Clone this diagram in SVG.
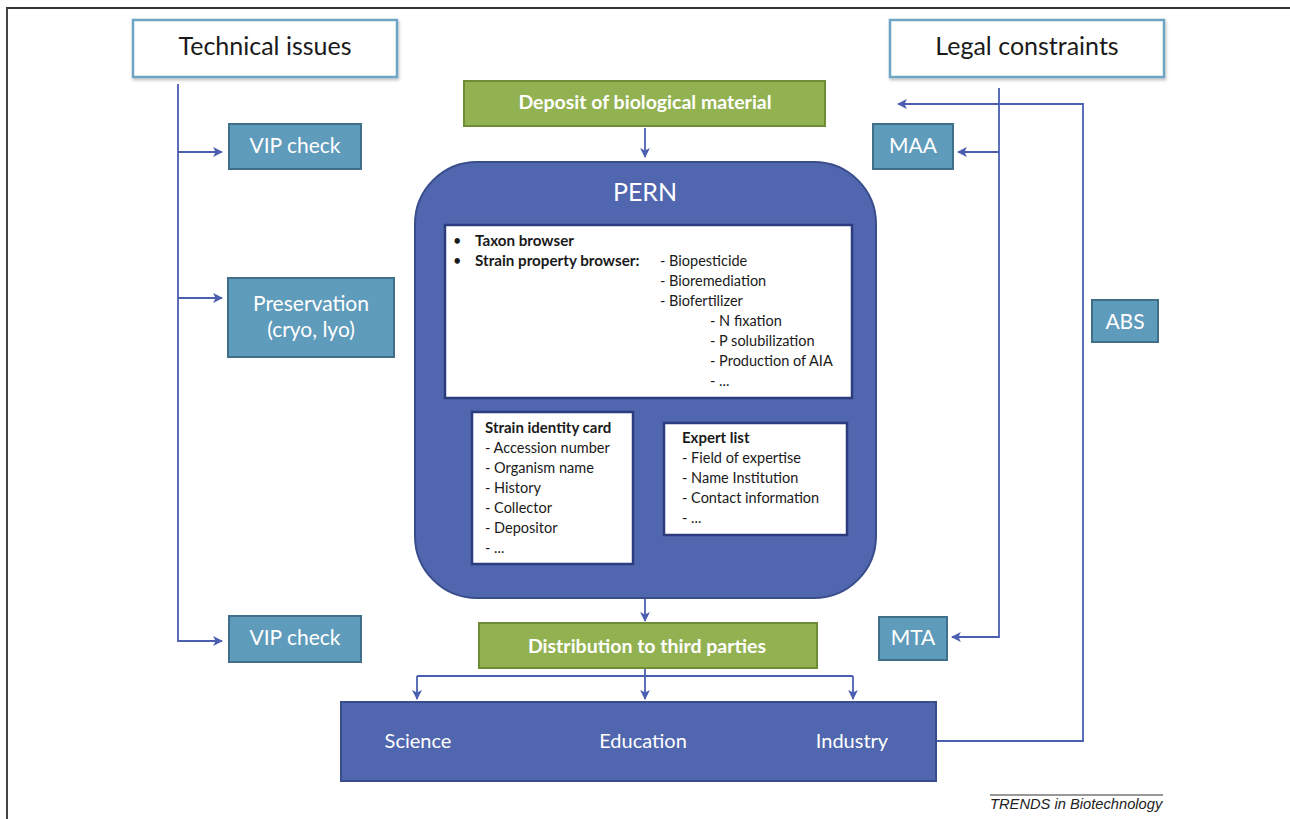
<svg xmlns="http://www.w3.org/2000/svg" width="1290" height="819" viewBox="0 0 1290 819">
<defs>
<style>
.t{font-family:Lato,"Liberation Sans",sans-serif}
.hdr{fill:#ffffff;stroke:#6ea5c5;stroke-width:2.5}
.teal{fill:#5f9bbb;stroke:#3f6f89;stroke-width:2}
.green{fill:#92b151;stroke:#6f8c37;stroke-width:2}
.blue{fill:#5066ae;stroke:#394c8c;stroke-width:2}
.wbox{fill:#ffffff;stroke:#2c3c7e;stroke-width:2.5}
.wt{fill:#ffffff}
.kt{fill:#1a1a1a}
.con{fill:none;stroke:#4a5fb0;stroke-width:1.8}
</style>
<marker id="ah" viewBox="0 0 10 10" refX="9" refY="5" markerWidth="5.5" markerHeight="5.5" orient="auto" markerUnits="strokeWidth">
<path d="M0,0 L10,5 L0,10 L2.5,5 z" fill="#4a5fb0"/>
</marker>
<filter id="sh" x="-10%" y="-10%" width="120%" height="130%">
<feDropShadow dx="1" dy="2" stdDeviation="1.5" flood-color="#000" flood-opacity="0.25"/>
</filter>
</defs>
<rect x="0" y="0" width="1290" height="819" fill="#ffffff"/>
<g id="frame">
<line x1="6" y1="8" x2="1290" y2="8" stroke="#333" stroke-width="2"/>
<line x1="7" y1="8" x2="7" y2="819" stroke="#444" stroke-width="2"/>
</g>
<g id="connectors">
<path class="con" d="M178 84 V641 H222" marker-end="url(#ah)"/>
<path class="con" d="M178 152 H222" marker-end="url(#ah)"/>
<path class="con" d="M178 298 H222" marker-end="url(#ah)"/>
<path class="con" d="M999 88 V637 H952" marker-end="url(#ah)"/>
<path class="con" d="M999 152 H958" marker-end="url(#ah)"/>
<path class="con" d="M937 741 H1083 V104 H898" marker-end="url(#ah)"/>
<path class="con" d="M645 128 V157" marker-end="url(#ah)"/>
<path class="con" d="M645 598 V621" marker-end="url(#ah)"/>
<path class="con" d="M645 668 V699" marker-end="url(#ah)"/>
<path class="con" d="M417 676 H853"/>
<path class="con" d="M417 676 V699" marker-end="url(#ah)"/>
<path class="con" d="M853 676 V699" marker-end="url(#ah)"/>
</g>
<g id="technical-issues">
<rect class="hdr" x="133" y="20" width="264" height="57" filter="url(#sh)"/>
<text class="t kt" x="265" y="55" font-size="25" text-anchor="middle">Technical issues</text>
</g>
<g id="legal-constraints">
<rect class="hdr" x="890" y="20" width="274" height="57" filter="url(#sh)"/>
<text class="t kt" x="1027" y="55" font-size="25" text-anchor="middle">Legal constraints</text>
</g>
<g id="deposit">
<rect class="green" x="464" y="81" width="361" height="45"/>
<text class="t wt" x="645" y="109" font-size="19.5" font-weight="bold" text-anchor="middle">Deposit of biological material</text>
</g>
<g id="vip-check-1">
<rect class="teal" x="229" y="124" width="132" height="45"/>
<text class="t wt" x="295" y="153" font-size="21" text-anchor="middle">VIP check</text>
</g>
<g id="maa">
<rect class="teal" x="873" y="124" width="80" height="45"/>
<text class="t wt" x="913" y="153" font-size="21" text-anchor="middle">MAA</text>
</g>
<g id="preservation">
<rect class="teal" x="228" y="278" width="166" height="79"/>
<text class="t wt" x="311" y="311" font-size="21" text-anchor="middle">Preservation</text>
<text class="t wt" x="311" y="337" font-size="21" text-anchor="middle">(cryo, lyo)</text>
</g>
<g id="abs">
<rect class="teal" x="1092" y="300" width="66" height="42"/>
<text class="t wt" x="1125" y="329" font-size="21" text-anchor="middle">ABS</text>
</g>
<g id="pern">
<rect class="blue" x="415" y="162" width="461" height="436" rx="62" ry="62"/>
<text class="t wt" x="645" y="201" font-size="25" text-anchor="middle">PERN</text>
<rect class="wbox" x="445" y="225" width="407" height="173"/>
<g class="t kt" font-size="14.5">
<text x="453" y="246">•</text>
<text x="475" y="246" font-weight="bold" font-size="15.2">Taxon browser</text>
<text x="453" y="266">•</text>
<text x="475" y="266" font-weight="bold" font-size="15.2">Strain property browser:</text>
<text x="660" y="266">- Biopesticide</text>
<text x="660" y="286">- Bioremediation</text>
<text x="660" y="306">- Biofertilizer</text>
<text x="710" y="326">- N fixation</text>
<text x="710" y="346">- P solubilization</text>
<text x="710" y="366">- Production of AIA</text>
<text x="710" y="386">- ...</text>
</g>
</g>
<g id="strain-identity-card">
<rect class="wbox" x="472" y="412" width="161" height="152"/>
<g class="t kt" font-size="14.5">
<text x="485" y="433" font-weight="bold" font-size="15">Strain identity card</text>
<text x="485" y="453">- Accession number</text>
<text x="485" y="473">- Organism name</text>
<text x="485" y="493">- History</text>
<text x="485" y="513">- Collector</text>
<text x="485" y="533">- Depositor</text>
<text x="485" y="553">- ...</text>
</g>
</g>
<g id="expert-list">
<rect class="wbox" x="664" y="423" width="183" height="112"/>
<g class="t kt" font-size="14.5">
<text x="682" y="443" font-weight="bold" font-size="15">Expert list</text>
<text x="682" y="463">- Field of expertise</text>
<text x="682" y="483">- Name Institution</text>
<text x="682" y="503">- Contact information</text>
<text x="682" y="523">- ...</text>
</g>
</g>
<g id="vip-check-2">
<rect class="teal" x="229" y="616" width="132" height="46"/>
<text class="t wt" x="295" y="645" font-size="21" text-anchor="middle">VIP check</text>
</g>
<g id="distribution">
<rect class="green" x="479" y="623" width="338" height="45"/>
<text class="t wt" x="647" y="653" font-size="19.5" font-weight="bold" text-anchor="middle">Distribution to third parties</text>
</g>
<g id="mta">
<rect class="teal" x="879" y="617" width="68" height="43"/>
<text class="t wt" x="913" y="645" font-size="21" text-anchor="middle">MTA</text>
</g>
<g id="users">
<rect class="blue" x="341" y="702" width="595" height="79"/>
<text class="t wt" x="418" y="748" font-size="20" text-anchor="middle">Science</text>
<text class="t wt" x="643" y="748" font-size="20" text-anchor="middle">Education</text>
<text class="t wt" x="852" y="748" font-size="20" text-anchor="middle">Industry</text>
</g>
<g id="caption">
<line x1="990" y1="795" x2="1163" y2="795" stroke="#333" stroke-width="1"/>
<text x="990" y="809" font-family="'Liberation Sans',Arial,sans-serif" font-style="italic" font-size="14.7" fill="#222">TRENDS in Biotechnology</text>
</g>
</svg>
